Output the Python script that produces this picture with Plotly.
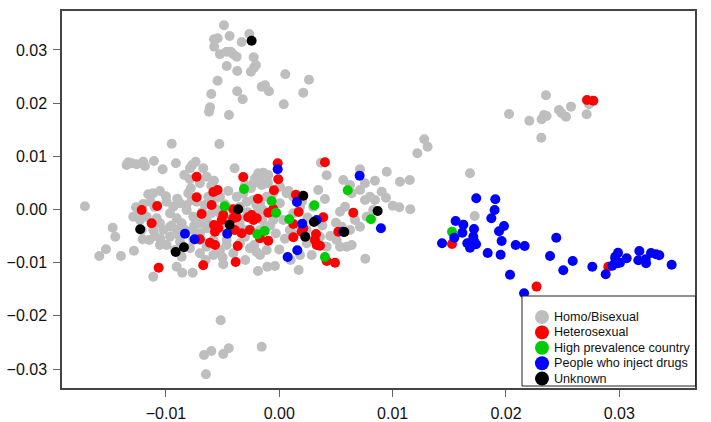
import plotly.graph_objects as go

# ---------------- data ----------------
groups = ["Homo/Bisexual", "Heterosexual", "High prevalence country",
          "People who inject drugs", "Unknown"]
colors = ["#BEBEBE", "#FF0000", "#00CD00", "#0000FF", "#000000"]

x_ticks = [-0.01, 0.00, 0.01, 0.02, 0.03]
y_ticks = [-0.03, -0.02, -0.01, 0.00, 0.01, 0.02, 0.03]

homo_x = [
    -0.00488, -0.00438, -0.00265, -0.00576, -0.00544, -0.00332, -0.00574, -0.00523, -0.00464, -0.00429,
    -0.00406, -0.00376, -0.00226, -0.00206, -0.00223, -0.00250, -0.00464, -0.00371, 0.00053, 0.00262,
    -0.00544, -0.00155, -0.00126, -0.00091, -0.00371, -0.00600, 0.00212, -0.00323, 0.00039, -0.00611,
    -0.00620, -0.00444, -0.00949, -0.00529,
    -0.00517, -0.00600, -0.00664, -0.00494, -0.00446, -0.00155, -0.00647,
    0.02353, 0.02027, 0.02206, 0.02315, 0.02336, 0.02359, 0.02468, 0.02492, 0.02530, 0.02574,
    0.02712, 0.02733, 0.02312,
    0.01279, 0.01309, 0.01218, 0.00948, 0.01065, 0.01151, 0.01683, 0.00904, 0.00942, 0.01001,
    0.01059, 0.01156, 0.01724,
    -0.01332, -0.01302, -0.01258, -0.01200, -0.01185, -0.01347, -0.01106, -0.01029, -0.00912, -0.00788,
    -0.00738, -0.00768, -0.00671, -0.00838, -0.00788, -0.00700, -0.00641, -0.00576, -0.00394, -0.00303,
    -0.00185, -0.00141, -0.00097, -0.00170, -0.00214, -0.00229, -0.00155, -0.00111, 0.00368, 0.00418,
    0.00712, 0.00565, 0.00624, 0.00756, 0.00844, 0.00639, 0.00712, 0.00756, 0.00800, 0.00844,
    -0.01715, -0.01470, -0.01447, -0.01588, -0.01529, -0.01397, -0.01282, -0.01264, -0.01253, -0.01200,
    -0.01156, -0.01135, -0.01053, -0.01112, -0.01214, -0.01205, -0.01147, -0.01097, -0.01053, -0.01112,
    -0.00994, -0.00935, -0.00876, -0.00817, -0.00773, -0.00803, -0.00729, -0.00964, -0.00905, -0.00861,
    -0.00832, -0.00759, -0.00700, -0.00641, -0.00597, -0.00552, -0.00656, -0.00627, -0.00523, -0.00994,
    -0.00920, -0.00861, -0.00788, -0.00759, -0.00700, -0.00641, -0.00582, -0.00523, -0.00464, -0.00406,
    -0.00347, -0.00303, -0.00259, -0.00221, -0.00170, -0.00111, -0.00905, -0.00856, -0.00764, -0.00494,
    -0.00188, -0.00106, -0.00038, 0.00171, 0.00759, 0.00065, 0.00124, 0.00006, -0.00023, 0.00035,
    0.00094, 0.00124, 0.00183, 0.00242, 0.00300, 0.00359, 0.00344, 0.00403, 0.00242, 0.00286,
    0.00183, 0.00536, 0.00580, 0.00551, 0.00624, 0.00536, 0.00595, 0.00639, 0.00506, 0.00418,
    0.00668, 0.00712, 0.00771, 0.00829, -0.01288, -0.01229, -0.01170, -0.01053, -0.01024, -0.01112,
    -0.01082, -0.00964, -0.00905, -0.00964, -0.00876, -0.00759, -0.00700, -0.00641, -0.00582, -0.00523,
    -0.00464, -0.00406, -0.00376, -0.00318, -0.00288, -0.00347, -0.00229, -0.00170, -0.00111, -0.00053,
    0.00006, -0.00141, -0.00199, -0.00288, -0.00053, -0.00111, -0.00170, -0.00523, -0.00464, -0.00347,
    -0.00288, -0.00464, -0.00700, -0.00582, -0.00464,
    -0.00900, -0.00820, -0.00680, -0.00620, -0.00550, -0.00480, -0.00400, -0.00350, -0.00280, -0.00200,
    -0.00150, -0.00080, -0.00030, 0.00050, 0.00120, 0.00180, 0.00250, 0.00300, 0.00380, 0.00450,
    0.00500, -0.00750, -0.00880, -0.00950, -0.01050, -0.01100, -0.01000, -0.00780, -0.00600, -0.00450,
    -0.00250, -0.00100, 0.00080, 0.00200, -0.00500, -0.00300, -0.00650, -0.00200, 0.00000, 0.00100,
]
homo_y = [
    0.03464, 0.03263, 0.03301, 0.03201, 0.03220, 0.03150, 0.03062, 0.02919, 0.02968, 0.02968,
    0.02919, 0.02874, 0.02863, 0.02718, 0.02667, 0.02592, 0.02699, 0.02605, 0.02543, 0.02441,
    0.02422, 0.02310, 0.02336, 0.02223, 0.02223, 0.02172, 0.02197, 0.02073, 0.01979, 0.01922,
    0.01839, 0.01777, 0.01238, 0.01232,
    -0.02084, -0.02661, -0.02737, -0.02718, -0.02611, -0.02580, -0.03100,
    0.02148, 0.01796, 0.01670, 0.01696, 0.01777, 0.01759, 0.01871, 0.01809, 0.01745, 0.01934,
    0.01790, 0.01978, 0.01350,
    0.01320, 0.01181, 0.01057, 0.00711, 0.00523, 0.00555, 0.00681, 0.00335, 0.00222, 0.00071,
    0.00041, 0.00004, -0.00122,
    0.00888, 0.00869, 0.00850, 0.00899, 0.00818, 0.00837, 0.00912, 0.00756, 0.00869, 0.00775,
    0.00899, 0.00837, 0.00775, 0.00649, 0.00568, 0.00493, 0.00617, 0.00542, 0.00775, 0.00461,
    0.00681, 0.00692, 0.00649, 0.00555, 0.00587, 0.00493, 0.00461, 0.00493, 0.00880, 0.00643,
    0.00756, 0.00555, 0.00461, 0.00493, 0.00542, 0.00305, 0.00367, 0.00179, 0.00241, 0.00179,
    0.00060, -0.00342, -0.00512, -0.00875, -0.00749, -0.00875, -0.00775, 0.00041, -0.00103, 0.00103,
    0.00286, 0.00147, 0.00348, 0.00305, -0.00386, -0.00560, -0.00574, -0.00498, -0.00668, -0.01264,
    0.00147, 0.00053, 0.00117, -0.00009, 0.00179, 0.00305, 0.00147, -0.00071, -0.00166, -0.00260,
    -0.00386, -0.00135, -0.00260, -0.00197, -0.00071, -0.00009, 0.00085, 0.00241, 0.00241, -0.00668,
    -0.00762, -0.00888, -0.00730, -0.00574, -0.00824, -0.00700, -0.00856, -0.00762, -0.00668, -0.00824,
    -0.00636, -0.00512, -0.00730, -0.00668, -0.00856, -0.00762, -0.01076, -0.01189, -0.01189, -0.01031,
    -0.01157, -0.01076, -0.01063, -0.01138, -0.00925, 0.00305, 0.00241, 0.00117, -0.00071, -0.00197,
    -0.00386, -0.00071, 0.00053, -0.00386, -0.00574, -0.00512, 0.00367, 0.00197, -0.00636, -0.00856,
    -0.00856, -0.00041, 0.00053, -0.00323, -0.00386, -0.00700, -0.00700, -0.00668, -0.00574, -0.00700,
    -0.00197, -0.00323, -0.00135, -0.00009, -0.00135, -0.00197, -0.00135, -0.00260, -0.00386, -0.00386,
    -0.00166, -0.00323, -0.00386, -0.00512, -0.00606, -0.00386, -0.00448, -0.00354, -0.00386, -0.00323,
    -0.00448, -0.00386, 0.00241, 0.00305, 0.00147, 0.00053, 0.00179, 0.00117, 0.00241, 0.00305,
    0.00429, -0.00009, -0.00071, -0.00135, -0.00197, -0.00323, -0.00386, -0.00071, 0.00053, -0.00323,
    -0.00386, -0.00197, -0.00574, -0.00574, -0.00574,
    0.00200, 0.00080, -0.00050, 0.00100, 0.00220, 0.00100, -0.00100, -0.00250, -0.00050, 0.00080,
    -0.00200, -0.00300, -0.00450, -0.00550, -0.00450, -0.00300, -0.00150, 0.00050, -0.00300, -0.00500,
    -0.00250, -0.00300, -0.00500, -0.00300, -0.00550, 0.00050, 0.00250, 0.00400, 0.00450, 0.00350,
    0.00400, 0.00500, 0.00350, 0.00150, -0.00900, -0.00950, -0.00950, -0.00800, -0.00750, -0.00950,
]

hetero_x = [
    -0.00014, 0.00403, -0.00729, -0.00318, -0.00009, -0.00582, -0.00544, -0.00047, -0.00729, -0.00188,
    0.00147, -0.01214, -0.01077, -0.00597, -0.00406, -0.00053, -0.00097, 0.00171, 0.00653, -0.01126,
    -0.00685, -0.00494, -0.00508, -0.00406, -0.00376, -0.00274, -0.00229, -0.00244, -0.00199, -0.00576,
    -0.00538, -0.00567, -0.00391, -0.00332, -0.00259, 0.00124, 0.00212, 0.00198, 0.00388, -0.00700,
    -0.00612, -0.00567, -0.00367, -0.00170, -0.00097, 0.00124, 0.00324, 0.00315, 0.00330, 0.00359,
    0.00521, 0.00418, 0.00492, -0.01064, -0.00671, -0.00385,
    0.01524, 0.02270, 0.02903, 0.02715, 0.02771,
]
hetero_y = [
    0.00869, 0.00888, 0.00617, 0.00611, 0.00568, 0.00329, 0.00367, 0.00361, 0.00229, 0.00203,
    0.00278, -0.00009, 0.00066, 0.00085, 0.00004, 0.00009, -0.00060, -0.00047, -0.00060, -0.00260,
    -0.00085, -0.00103, -0.00197, -0.00166, -0.00147, -0.00147, -0.00197, -0.00103, -0.00166, -0.00292,
    -0.00354, -0.00418, -0.00386, -0.00448, -0.00386, -0.00273, -0.00354, -0.00418, -0.00147, -0.00560,
    -0.00624, -0.00668, -0.00686, -0.00542, -0.00587, -0.00523, -0.00461, -0.00574, -0.00668, -0.00681,
    -0.00418, -0.00969, -0.01001, -0.01095, -0.01049, -0.00987,
    -0.00649, -0.01450, -0.01076, 0.02059, 0.02046,
]

hpc_x = [-0.00311, -0.00482, -0.00067, -0.00029, 0.00309, 0.00088, 0.00604, 0.00809,
         -0.00194, -0.00129, 0.00403, 0.01524]
hpc_y = [0.00386, 0.00060, 0.00160, -0.00060, 0.00079, -0.00184, 0.00361, -0.00184,
         -0.00466, -0.00404, -0.00893, -0.00417]

pwid_x = [
    -0.00014, 0.00709, 0.00156, 0.00203, 0.00330, -0.00832, -0.00747, -0.00459, 0.00159, 0.00074,
    0.00565, 0.00897,
    0.01738, 0.01906, 0.01900, 0.01871, 0.01983, 0.01939, 0.01962, 0.01556, 0.01624, 0.01718,
    0.01615, 0.01712, 0.01721, 0.01683, 0.01659, 0.01736, 0.01683, 0.01544, 0.01436, 0.01839,
    0.01953, 0.02086, 0.02165, 0.02444, 0.02389, 0.02589, 0.02506, 0.02036, 0.02160, 0.02762,
    0.02880, 0.02938, 0.02982, 0.03006, 0.02965, 0.02989, 0.02965, 0.03065, 0.03177, 0.03168,
    0.03233, 0.03236, 0.03280, 0.03324, 0.03353, 0.03462,
]
pwid_y = [
    0.00756, 0.00636, 0.00141, -0.00267, -0.00197, -0.00455, -0.00560, -0.00455, -0.00767, -0.00893,
    -0.00418, -0.00354,
    0.00211, 0.00192, -0.00009, -0.00166, -0.00310, -0.00410, -0.00592, -0.00216, -0.00285, -0.00367,
    -0.00436, -0.00511, -0.00605, -0.00624, -0.00636, -0.00654, -0.00718, -0.00530, -0.00636, -0.00818,
    -0.00850, -0.00668, -0.00686, -0.00530, -0.00875, -0.00969, -0.01144, -0.01226, -0.01576, -0.01076,
    -0.01219, -0.01057, -0.01012, -0.01001, -0.00925, -0.00812, -0.00888, -0.00918, -0.00781, -0.00955,
    -0.00937, -0.01012, -0.00818, -0.00843, -0.00861, -0.01038,
]

unk_x = [-0.00244, 0.00212, -0.00362, 0.00868, -0.00438, 0.00306, 0.00574, 0.00229,
         -0.01227, -0.00914, -0.00841]
unk_y = [0.03175, 0.00260, 0.00004, -0.00028, -0.00286, -0.00235, -0.00423, -0.00512,
         -0.00372, -0.00799, -0.00711]

series_x = [homo_x, hetero_x, hpc_x, pwid_x, unk_x]
series_y = [homo_y, hetero_y, hpc_y, pwid_y, unk_y]

# ---------------- figure ----------------
W, H = 711, 422
ML, MR, MT, MB = 62, 16, 11, 34
PW, PH = W - ML - MR, H - MT - MB

fig = go.Figure()
for name, col, xs, ys in zip(groups, colors, series_x, series_y):
    fig.add_trace(go.Scatter(
        x=xs, y=ys, mode="markers", name=name, showlegend=False,
        marker=dict(color=col, size=10, line=dict(width=0)),
    ))

# legend box drawn in paper coordinates (compact, like the R legend)
def px_x(p):
    return (p - ML) / PW

def px_y(p):
    return (H - MB - p) / PH

shapes = [dict(type="rect", xref="paper", yref="paper",
               x0=px_x(522), x1=px_x(695.5), y0=px_y(386), y1=px_y(296),
               line=dict(color="#222222", width=1), fillcolor="white", layer="above")]
annotations = []
row_y0, row_dy, key_cx, key_r, text_x = 317, 15.4, 542, 7, 552
for i, (name, col) in enumerate(zip(groups, colors)):
    cy = row_y0 + i * row_dy
    shapes.append(dict(type="circle", xref="paper", yref="paper",
                       x0=px_x(key_cx - key_r), x1=px_x(key_cx + key_r),
                       y0=px_y(cy + key_r), y1=px_y(cy - key_r),
                       fillcolor=col, line=dict(width=0), layer="above"))
    annotations.append(dict(xref="paper", yref="paper", x=px_x(text_x), y=px_y(cy),
                            xanchor="left", yanchor="middle", showarrow=False, text=name,
                            font=dict(family="Liberation Sans, Arial, sans-serif",
                                      size=12.6, color="#111111")))

axis_common = dict(
    showgrid=False, zeroline=False, showline=True, mirror=True, automargin=False,
    linecolor="#444444", linewidth=1.5, ticks="outside", ticklen=7,
    tickwidth=1, tickcolor="#666666", tickformat=".2f", ticklabelstandoff=3,
    tickfont=dict(family="Liberation Sans, Arial, sans-serif", size=16, color="#111111"),
)

fig.update_layout(
    width=W, height=H,
    margin=dict(l=ML, r=MR, t=MT, b=MB),
    paper_bgcolor="white", plot_bgcolor="white",
    xaxis=dict(range=[-0.01917, 0.03668], tickvals=x_ticks, **axis_common),
    yaxis=dict(range=[-0.03357, 0.03733], tickvals=y_ticks, **axis_common),
    showlegend=False,
    shapes=shapes,
    annotations=annotations,
)

fig.write_html(
    "out.html",
    config={"displayModeBar": False},
    post_script="document.body.style.margin='0';document.body.style.padding='0';",
)
